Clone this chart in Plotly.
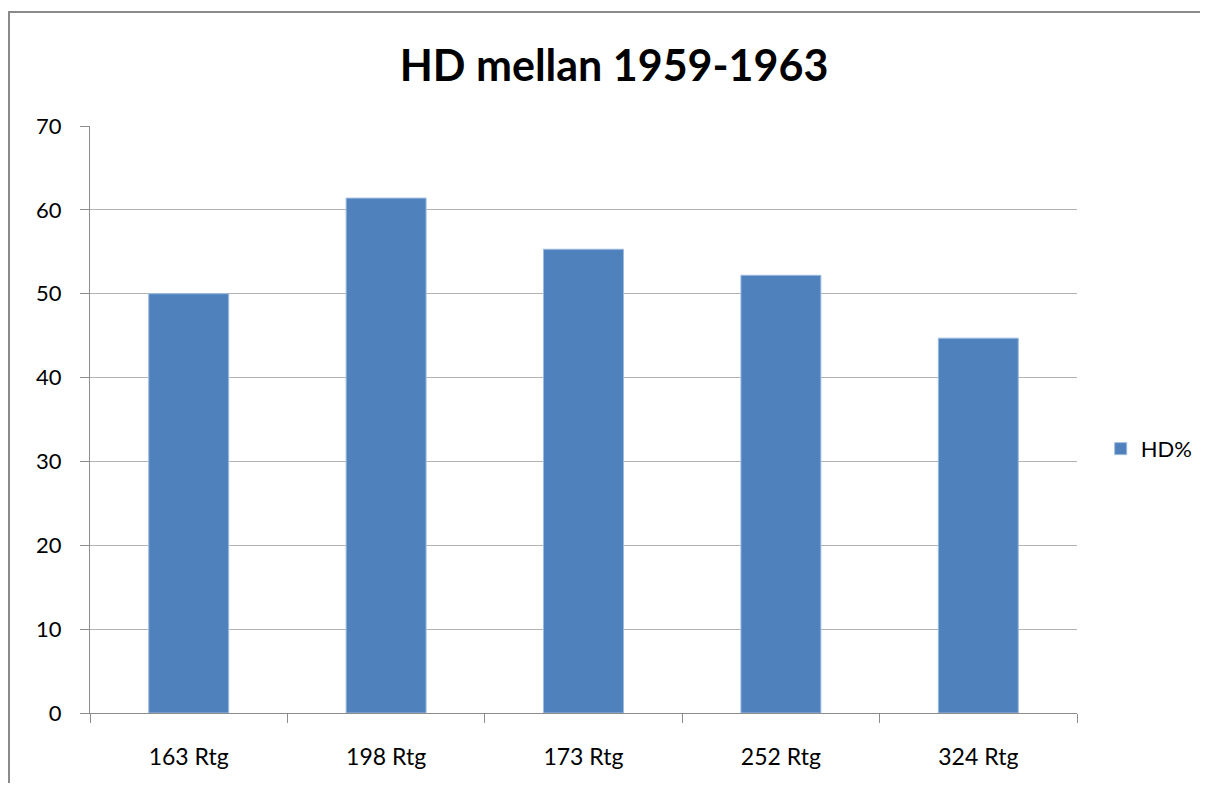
import plotly.graph_objects as go

categories = ["163 Rtg", "198 Rtg", "173 Rtg", "252 Rtg", "324 Rtg"]
hd_values = [50.0, 61.4, 55.3, 52.2, 44.7]
series_name = "HD%"
title_text = "HD mellan 1959-1963"
y_ticks = [0, 10, 20, 30, 40, 50, 60, 70]

FONT = "Lato, 'Open Sans', sans-serif"

W, H = 1192, 775
L, T = 82, 118
PW, PH = 987, 587

fig = go.Figure()
fig.add_trace(go.Bar(
    x=categories, y=hd_values, name=series_name,
    marker=dict(color="#4F81BD", line=dict(color="#9DBBE0", width=1)),
    width=0.405, showlegend=True,
))

fig.update_layout(
    width=W, height=H,
    margin=dict(l=L, r=W - L - PW, t=T, b=H - T - PH, autoexpand=False),
    paper_bgcolor="white", plot_bgcolor="white",
    font=dict(family=FONT, size=22, color="#000000"),
    title=dict(text=title_text, x=606 / W, xref="container", y=1 - 58 / H, yref="container",
               xanchor="center", yanchor="middle",
               font=dict(family=FONT, size=43, color="#000000", weight="bold")),
    showlegend=True,
    legend=dict(x=1.024, y=0.45, xanchor="left", yanchor="middle",
                font=dict(family=FONT, size=22, color="#000000"),
                bgcolor="rgba(0,0,0,0)", itemwidth=30),
)

fig.update_yaxes(
    range=[0, 70], tickvals=y_ticks, showgrid=True, gridcolor="#B3B3B3", gridwidth=1.3,
    showline=True, linecolor="#8C8C8C", linewidth=1.3,
    ticks="outside", ticklen=9, tickcolor="#8C8C8C", tickwidth=1.3,
    ticklabelstandoff=14, zeroline=False, automargin=False,
    tickfont=dict(family=FONT, size=22, color="#000000"),
)
fig.update_xaxes(
    type="category", showline=True, linecolor="#8C8C8C", linewidth=1.3,
    ticks="outside", ticklen=9, tickcolor="#8C8C8C", tickwidth=1.3,
    tickson="boundaries", ticklabelstandoff=23, showgrid=False, automargin=False,
    tickfont=dict(family=FONT, size=23, color="#000000"),
)

# outer chart border (partially cropped in the reference)
fig.add_shape(type="rect", xref="paper", yref="paper",
              x0=(1 - L) / PW, x1=1.3, y0=-0.3, y1=(T + PH - 4) / PH,
              line=dict(color="#8A8A8A", width=2), fillcolor="rgba(0,0,0,0)", layer="below")

fig.write_html("out.html")
